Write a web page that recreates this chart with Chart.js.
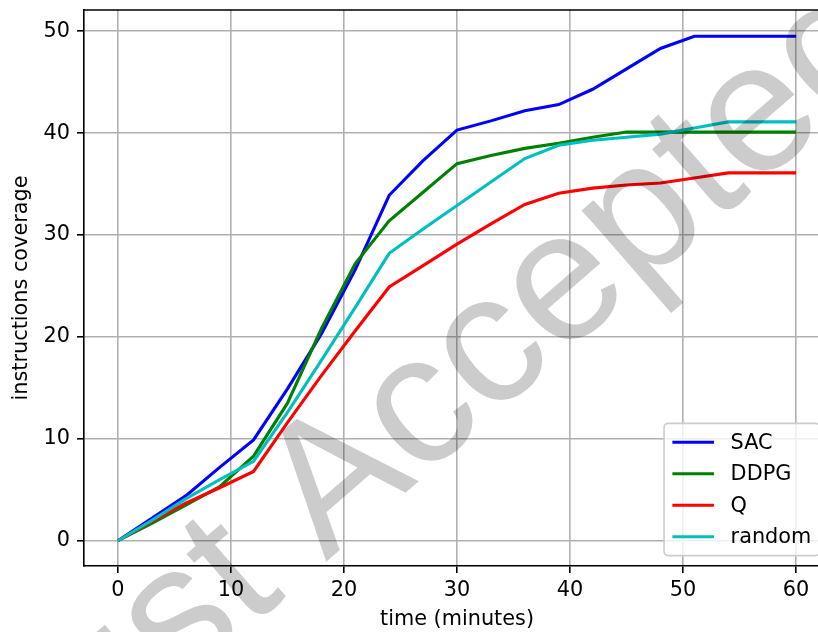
<!DOCTYPE html>
<html>
<head>
<meta charset="utf-8">
<script src="https://cdn.jsdelivr.net/npm/chart.js@4.4.1/dist/chart.umd.min.js"></script>
<style>
  html, body { margin: 0; padding: 0; background: #fff; }
  #wrap { width: 818px; height: 632px; overflow: hidden; }
  canvas { display: block; }
</style>
</head>
<body>
<div id="wrap"><canvas id="coverageChart" width="836" height="632"></canvas></div>
<script>
// time axis (minutes) and coverage per agent
const times = [0, 3, 6, 9, 12, 15, 18, 21, 24, 27, 30, 33, 36, 39, 42, 45, 48, 51, 54, 57, 60];
const sacValues = [0, 2.2, 4.4, 7.2, 9.9, 14.9, 20.3, 26.6, 33.9, 37.3, 40.3, 41.2, 42.2, 42.8, 44.3, 46.3, 48.3, 49.5, 49.5, 49.5, 49.5];
const ddpgValues = [0, 1.7, 3.5, 5.3, 8.3, 13.5, 20.8, 27.2, 31.4, 34.2, 37.0, 37.8, 38.5, 39.0, 39.6, 40.1, 40.1, 40.1, 40.1, 40.1, 40.1];
const qValues = [0, 1.9, 3.7, 5.2, 6.8, 11.6, 16.2, 20.6, 24.9, 27.0, 29.1, 31.1, 33.0, 34.1, 34.6, 34.9, 35.1, 35.6, 36.1, 36.1, 36.1];
const randomValues = [0, 2.0, 4.1, 6.0, 7.8, 12.6, 17.7, 22.9, 28.2, 30.6, 32.9, 35.2, 37.5, 38.8, 39.3, 39.6, 39.9, 40.5, 41.1, 41.1, 41.1];

const seriesNames = ['SAC', 'DDPG', 'Q', 'random'];
const seriesColors = ['#0000ff', '#008000', '#ff0000', '#00bfbf'];
const xTicks = [0, 10, 20, 30, 40, 50, 60];
const yTicks = [0, 10, 20, 30, 40, 50];
const watermarkText = 'Just Accepted';

const FONT = 'DejaVu Sans';
const FS = 20.8;

function toPoints(values) {
    return values.map((v, i) => ({ x: times[i], y: v }));
}

const allSeries = [sacValues, ddpgValues, qValues, randomValues];

// top spine (right one sits just outside the crop)
const framePlugin = {
    id: 'frame',
    afterDatasetsDraw(chart) {
        const { ctx, chartArea: a } = chart;
        ctx.save();
        ctx.strokeStyle = '#000';
        ctx.lineWidth = 1.6;
        ctx.beginPath();
        ctx.moveTo(a.left, a.top);
        ctx.lineTo(a.right, a.top);
        ctx.lineTo(a.right, a.bottom);
        ctx.stroke();
        ctx.restore();
    }
};

// matplotlib-like legend in the lower right corner
const legendBoxPlugin = {
    id: 'legendBox',
    afterDatasetsDraw(chart) {
        const { ctx, chartArea: a } = chart;
        const sets = chart.data.datasets;
        const pad = 0.4 * FS, gap = 0.5 * FS, handle = 2 * FS, textPad = 0.8 * FS, rowH = 21.1;
        ctx.save();
        ctx.font = FS + 'px "' + FONT + '"';
        const textW = Math.max(...sets.map(s => ctx.measureText(s.label).width));
        const w = pad * 2 + handle + textPad + textW;
        const h = pad * 2 + sets.length * rowH + (sets.length - 1) * gap;
        const right = a.right - 0.5 * FS;
        const bottom = a.bottom - 0.5 * FS;
        const left = right - w, top = bottom - h;

        ctx.beginPath();
        ctx.roundRect(left, top, w, h, 4);
        ctx.fillStyle = 'rgba(255,255,255,0.8)';
        ctx.fill();
        ctx.strokeStyle = '#cccccc';
        ctx.lineWidth = 1.6;
        ctx.stroke();

        sets.forEach((s, i) => {
            const cy = top + pad + rowH / 2 + i * (rowH + gap);
            ctx.beginPath();
            ctx.moveTo(left + pad, cy);
            ctx.lineTo(left + pad + handle, cy);
            ctx.strokeStyle = s.borderColor;
            ctx.lineWidth = 3.1;
            ctx.stroke();
            ctx.fillStyle = '#000';
            ctx.textBaseline = 'middle';
            ctx.textAlign = 'left';
            ctx.fillText(s.label, left + pad + handle + textPad, cy + 1);
        });
        ctx.restore();
    }
};

const watermarkPlugin = {
    id: 'watermark',
    afterDraw(chart) {
        const ctx = chart.ctx;
        ctx.save();
        ctx.font = '185px "Liberation Sans"';
        ctx.fillStyle = 'rgba(0,0,0,0.2)';
        ctx.textBaseline = 'alphabetic';
        ctx.textAlign = 'left';
        const lead = ctx.measureText('Just ').width;
        ctx.translate(326, 562);
        ctx.rotate(-41 * Math.PI / 180);
        ctx.fillText(watermarkText, -lead, 0);
        ctx.restore();
    }
};

const chartCtx = document.getElementById('coverageChart').getContext('2d');
const coverageChart = new Chart(chartCtx, {
    type: 'line',
    data: {
        datasets: seriesNames.map((name, i) => ({
            label: name,
            data: toPoints(allSeries[i]),
            borderColor: seriesColors[i],
            backgroundColor: seriesColors[i],
            borderWidth: 3.1,
            pointRadius: 0,
            tension: 0,
            fill: false,
            order: seriesNames.length - i
        }))
    },
    options: {
        responsive: false,
        animation: false,
        devicePixelRatio: 1,
        layout: { padding: { top: 10, right: 6, left: 0, bottom: 0 } },
        plugins: {
            legend: { display: false },
            tooltip: { enabled: false }
        },
        scales: {
            x: {
                type: 'linear',
                min: -3,
                max: 63,
                afterBuildTicks: scale => { scale.ticks = xTicks.map(v => ({ value: v })); },
                afterFit: scale => {
                    scale.height = 66;
                    scale.paddingLeft = 0;
                    scale.paddingRight = 0;
                },
                grid: { color: '#b0b0b0', lineWidth: 1.6, tickColor: '#000', tickLength: 7, tickWidth: 1.6 },
                border: { color: '#000', width: 1.6 },
                ticks: {
                    autoSkip: false,
                    maxRotation: 0,
                    padding: 5,
                    color: '#000',
                    font: { family: FONT, size: FS }
                },
                title: {
                    display: true,
                    text: 'time (minutes)',
                    color: '#000',
                    padding: { top: 0, bottom: 0 },
                    font: { family: FONT, size: FS }
                }
            },
            y: {
                type: 'linear',
                min: -2.48,
                max: 52.08,
                afterBuildTicks: scale => { scale.ticks = yTicks.map(v => ({ value: v })); },
                afterFit: scale => {
                    scale.width = 84;
                    scale.paddingTop = 0;
                    scale.paddingBottom = 0;
                },
                grid: { color: '#b0b0b0', lineWidth: 1.6, tickColor: '#000', tickLength: 7, tickWidth: 1.6 },
                border: { color: '#000', width: 1.6 },
                ticks: {
                    autoSkip: false,
                    padding: 7,
                    color: '#000',
                    font: { family: FONT, size: FS }
                },
                title: {
                    display: true,
                    text: 'instructions coverage',
                    color: '#000',
                    padding: { top: 9.5, bottom: 0 },
                    font: { family: FONT, size: FS }
                }
            }
        }
    },
    plugins: [framePlugin, legendBoxPlugin, watermarkPlugin]
});
</script>
</body>
</html>
